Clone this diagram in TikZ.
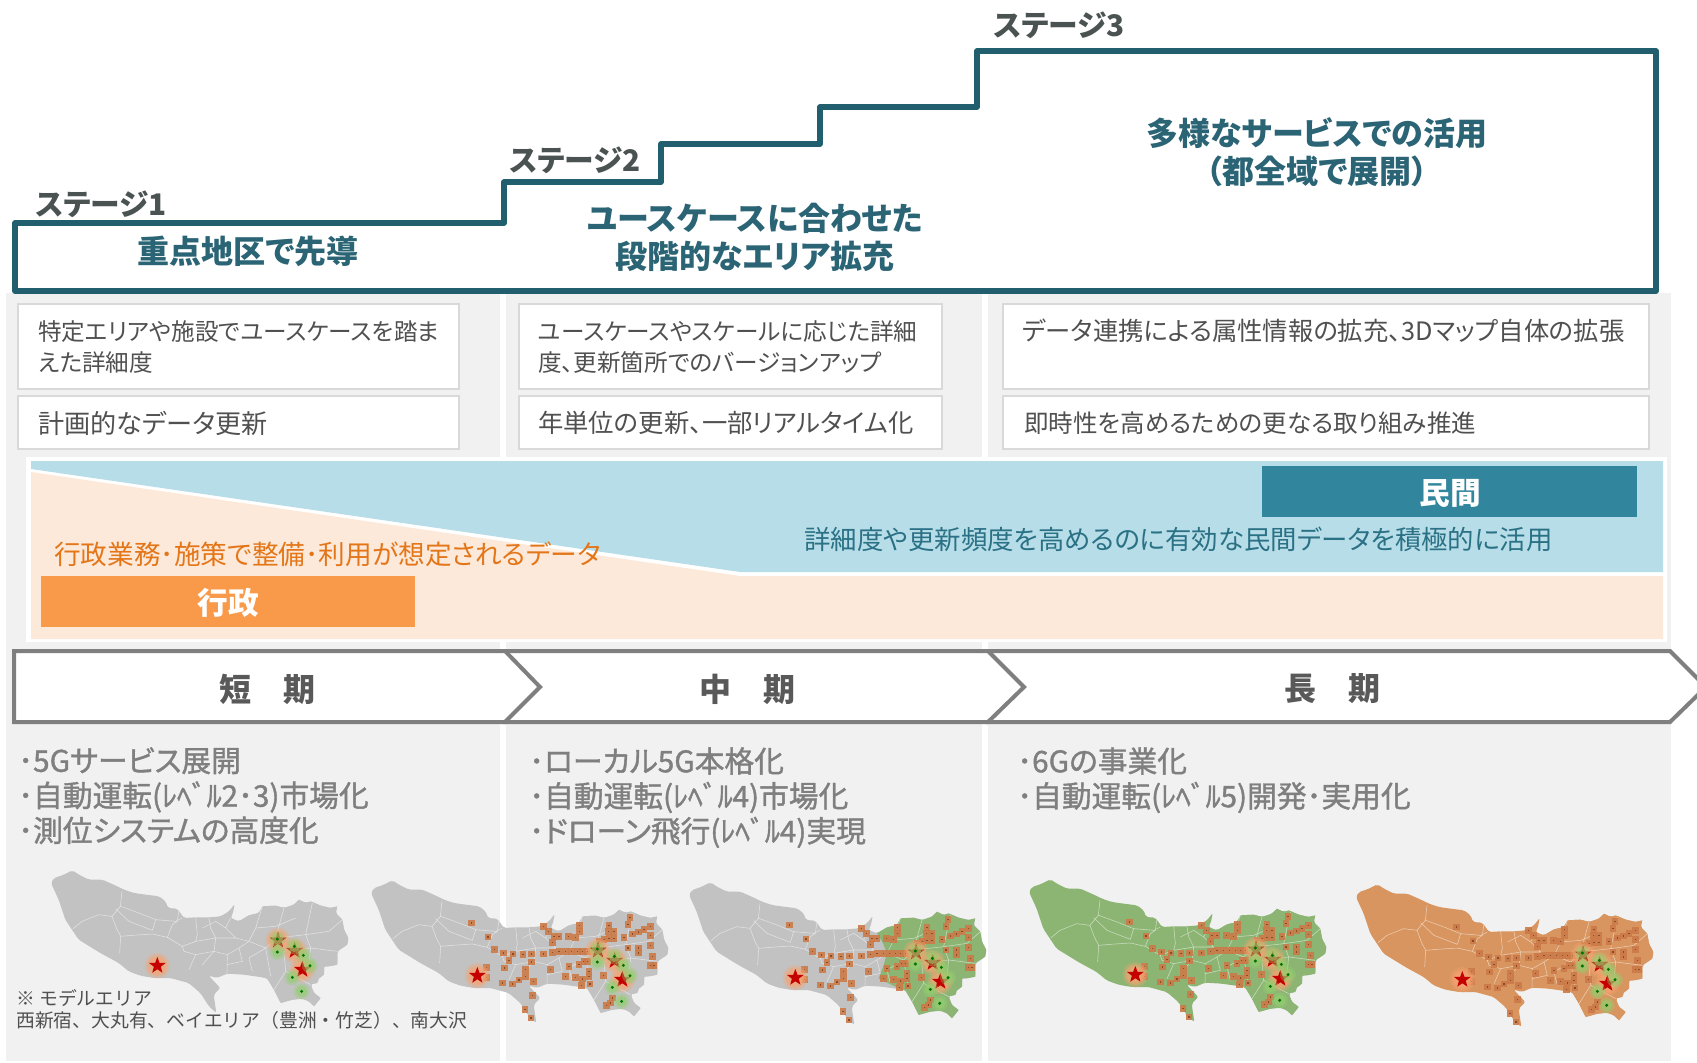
\documentclass[tikz,border=0pt]{standalone}
\usepackage{fontspec}
\setmainfont{Noto Sans CJK JP}[RawFeature=+palt]
\newfontfamily\widefont{Noto Sans CJK JP}
\newfontfamily\medfont{Noto Sans CJK JP}[RawFeature=+palt,FakeBold=1.2]
\usepackage[svgnames]{xcolor}
\usetikzlibrary{shapes.geometric}
\definecolor{stairteal}{HTML}{215F6E}
\definecolor{headteal}{HTML}{2A6475}
\definecolor{panelgray}{HTML}{F1F1F1}
\definecolor{boxline}{HTML}{D9D9D9}
\definecolor{boxtext}{HTML}{505050}
\definecolor{bandblue}{HTML}{B7DDE8}
\definecolor{bandpeach}{HTML}{FDE9D9}
\definecolor{privblue}{HTML}{31859C}
\definecolor{govorange}{HTML}{F99A4A}
\definecolor{govtext}{HTML}{E4761A}
\definecolor{chevgray}{HTML}{7F7F7F}
\definecolor{mapgray}{HTML}{C2C2C2}
\definecolor{mapgreen}{HTML}{8CB574}
\definecolor{maporange}{HTML}{D8955F}
\definecolor{sqorange}{HTML}{CB7A48}
\definecolor{sqdark}{HTML}{8A4A24}
\definecolor{starred}{HTML}{C40000}
\definecolor{halopeach}{HTML}{F7A472}
\definecolor{spotgreen}{HTML}{92CF6E}
\def\fs#1{\fontsize{#1}{#1}\selectfont}
\begin{document}
\begin{tikzpicture}[x=0.75pt,y=-0.75pt,
    panel/.style={fill=panelgray},
    stagelabel/.style={inner sep=0,text=DarkSlateGray!30!black!75,font=\fs{22.3}\bfseries},
    headline/.style={inner sep=0,align=center,text=headteal,font=\fontsize{24}{28.5}\selectfont\bfseries},
    whitebox/.style={draw=boxline,line width=1.8pt,fill=white},
    boxlabel/.style={anchor=west,inner sep=0,align=left,text=boxtext,font=\fontsize{#1}{23.6}\selectfont},
    banner/.style={inner sep=0,text=white,font=\fs{23}\bfseries},
    chevron/.style={draw=chevgray,line width=3pt,fill=white,line join=miter},
    termlabel/.style={inner sep=0,text=black!65,font=\fs{24}\bfseries},
    bulletlabel/.style={anchor=north west,inner sep=0,align=left,text=chevgray,font=\medfont\fontsize{22.3}{26.2}\selectfont},
    redstar/.style={star,star points=5,star point ratio=2.4,inner sep=0,minimum size=13pt,fill=starred}]

    \useasboundingbox (0,0) rectangle (1697,1063);
    \clip (0,0) rectangle (1697,1063);
    \fill[white] (0,0) rectangle (1697,1063);

    % Gray columns
    \fill[panel] (6,293) rectangle (500,1061);
    \fill[panel] (506,293) rectangle (982,1061);
    \fill[panel] (988,293) rectangle (1671,1061);

    % Stairs
    \draw[stairteal,line width=4pt,line join=round] (15,223) -- (504,223) -- (504,182) -- (661,182) -- (661,144)
        -- (820,144) -- (820,107) -- (977,107) -- (977,51) -- (1656,51) -- (1656,291) -- (15,291) -- cycle;
    \node[stagelabel] (stage1) at (101,204) {ステージ1};
    \node[stagelabel] (stage2) at (575,160) {ステージ2};
    \node[stagelabel] (stage3) at (1059,25) {ステージ3};
    \node[headline] (head1) at (248,251) {重点地区で先導};
    \node[headline] (head2) at (755,237) {ユースケースに合わせた\\段階的なエリア拡充};
    \node[headline] (head3) at (1317,152) {多様なサービスでの活用\\（都全域で展開）};

    % Boxes under the stairs
    \draw[whitebox] (18,304) rectangle (459,389);
    \draw[whitebox] (18,396) rectangle (459,449);
    \draw[whitebox] (519,304) rectangle (942,389);
    \draw[whitebox] (519,396) rectangle (942,449);
    \draw[whitebox] (1003,304) rectangle (1649,389);
    \draw[whitebox] (1003,396) rectangle (1649,449);
    \node[boxlabel=17.7] (spec1) at (38,347) {特定エリアや施設でユースケースを踏ま\\えた詳細度};
    \node[boxlabel=19.6] (upd1) at (38,423) {計画的なデータ更新};
    \node[boxlabel=17.7] (spec2) at (538,347) {ユースケースやスケールに応じた詳細\\度、更新箇所でのバージョンアップ};
    \node[boxlabel=19] (upd2) at (538,423) {年単位の更新、一部リアルタイム化};
    \node[boxlabel=19] (spec3) at (1022,331) {データ連携による属性情報の拡充、3Dマップ自体の拡張};
    \node[boxlabel=18.4] (upd3) at (1024,423) {即時性を高めるための更なる取り組み推進};

    % Band public / private
    \fill[white] (26,457) rectangle (1667,642);
    \fill[bandblue] (31,461) -- (1663,461) -- (1663,572) -- (740,572) -- (31,469) -- cycle;
    \fill[bandpeach] (31,472) -- (740,576) -- (1663,576) -- (1663,639) -- (31,639) -- cycle;
    \fill[govorange] (41,576) rectangle (415,627);
    \fill[privblue] (1262,466) rectangle (1637,517);
    \node[banner] (gov) at (228,603) {行政};
    \node[banner] (priv) at (1450,493) {民間};
    \node[anchor=west,inner sep=0,text=govtext,font=\fs{20}] (govtxt) at (54,554) {行政業務･施策で整備･利用が想定されるデータ};
    \node[anchor=west,inner sep=0,text=privblue!85!black,font=\fs{19.8}] (privtxt) at (804,539) {詳細度や更新頻度を高めるのに有効な民間データを積極的に活用};

    % Chevrons
    \draw[chevron] (988,651) -- (1670,651) -- (1706,687) -- (1670,722) -- (988,722) -- cycle;
    \draw[chevron] (505,651) -- (988,651) -- (1024,687) -- (988,722) -- (505,722) -- cycle;
    \draw[chevron] (14,651) -- (505,651) -- (540,687) -- (505,722) -- (14,722) -- cycle;
    \node[termlabel] (short) at (267,689) {短　期};
    \node[termlabel] (mid) at (747,689) {中　期};
    \node[termlabel] (long) at (1332,689) {長　期};

    % Bullets
    \node[bulletlabel] (tech1) at (18,747) {･5Gサービス展開\\･自動運転(ﾚﾍﾞﾙ2･3)市場化\\･測位システムの高度化};
    \node[bulletlabel] (tech2) at (529,747) {･ローカル5G本格化\\･自動運転(ﾚﾍﾞﾙ4)市場化\\･ドローン飛行(ﾚﾍﾞﾙ4)実現};
    \node[bulletlabel] (tech3) at (1017,747) {･6Gの事業化\\･自動運転(ﾚﾍﾞﾙ5)開発･実用化};

    % Outline of the map, numbers are read in the zoomed picture
    \def\tokyoshape{(566,135) -- (575,120) -- (600,112) -- (630,97) -- (650,110) -- (680,125) -- (720,125) -- (765,145)
        -- (785,155) -- (815,165) -- (850,170) -- (890,175) -- (910,190) -- (917,210) -- (945,212) -- (965,240)
        -- (1000,238) -- (1040,238) -- (1075,235) -- (1100,220) -- (1117,198) -- (1112,225) -- (1105,240) -- (1130,250)
        -- (1160,232) -- (1190,225) -- (1200,205) -- (1240,203) -- (1265,210) -- (1295,200) -- (1310,185) -- (1330,195)
        -- (1345,190) -- (1375,203) -- (1405,210) -- (1425,205) -- (1420,225) -- (1440,245) -- (1445,275) -- (1458,300)
        -- (1455,320) -- (1425,340) -- (1425,380) -- (1400,385) -- (1385,385) -- (1385,410) -- (1365,425) -- (1345,440)
        -- (1355,465) -- (1375,480) -- (1355,505) -- (1340,490) -- (1320,482) -- (1290,485) -- (1255,495) -- (1235,455)
        -- (1214,420) -- (1144,410) -- (1094,407) -- (1064,420) -- (1039,413) -- (1074,450) -- (1054,470) -- (1062,525)
        -- (1040,505) -- (1014,465) -- (979,435) -- (924,420) -- (874,420) -- (834,413) -- (799,400) -- (769,375)
        -- (714,345) -- (649,305) -- (609,245) -- (589,185) -- cycle
        (1345,425) -- (1357,415) -- (1370,420) -- (1365,435) -- (1350,438) -- cycle}
    \def\squarelist{868/225,917/267,936/305,964/315,992/318,980/338,966/360,1022/320,1048/318,1048/342,1030/365,1030/385,
        1010/396,990/408,960/405,912/358,912/388,1083/318,1110/313,1130/310,1105/365,1053/400,1050/442,1028/485,1046/510,
        1083/235,1098/250,1115/265,1130/265,1158/265,1180/268,1192/250,1192/232,1110/283,1150/310,1168/310,1185/310,
        1200/310,1215/310,1230/310,1160/355,1190/350,1205/340,1215/340,1150/385,1180/388,1200/393,1220/370,1220/385,
        1223/408,1198/412,1263/382,1250/280,1265/275,1280/272,1295/272,1325/268,1350/258,1368/252,1385/245,1405/235,
        1280/232,1278/250,1295/250,1337/230,1343/208,1337/300,1368/300,1368/315,1405/292,1405/262,1410/325,1405/352,
        1415/352,1290/450,1285/465,1272/472}
    % #1 name, #2 #3 west tip, #4 colour, #5 colour of the wards, #6 squares or not
    \def\drawmap#1#2#3#4#5#6{
        \begin{scope}[shift={(#2,#3)},x=0.25pt,y=-0.25pt,shift={(-566,-135)}]
            \fill[#4,rounded corners=1.5pt] \tokyoshape;
            \begin{scope}
                \clip \tokyoshape;
                \fill[#5] (1130,250) -- (1148,280) -- (1160,310) -- (1150,345) -- (1135,385) -- (1214,425) -- (1235,600)
                    -- (1600,600) -- (1600,100) -- (1130,100) -- cycle;
            \end{scope}
            % Borders of the towns
            \draw[white,opacity=0.55,line width=0.4pt,line join=round]
                (779,160) -- (774,205) -- (749,235) -- (709,230) -- (659,250) -- (632,272)
                (749,235) -- (762,270) -- (775,295) -- (772,345)
                (775,295) -- (810,292) -- (870,288) -- (915,298) -- (960,325) -- (965,340) -- (1000,350) -- (980,395)
                (760,212) -- (800,250) -- (870,277) -- (880,245) -- (830,225) -- (775,205)
                (880,245) -- (940,250) -- (960,240)
                (915,298) -- (930,260) -- (945,250) -- (950,215)
                (960,325) -- (1000,310) -- (1060,300) -- (1120,300) -- (1160,310)
                (1000,238) -- (1005,290) -- (1000,310)
                (1040,238) -- (1045,270) -- (1060,300)
                (1060,300) -- (1055,340) -- (1020,380)
                (1000,350) -- (1055,340) -- (1095,350) -- (1094,407)
                (1095,350) -- (1130,330) -- (1160,310)
                (1105,240) -- (1090,270) -- (1120,300)
                (1160,310) -- (1180,270) -- (1200,205)
                (1160,310) -- (1210,330) -- (1240,300) -- (1265,210)
                (1240,300) -- (1330,290) -- (1350,195)
                (1330,290) -- (1345,330) -- (1425,340)
                (1210,330) -- (1225,415)
                (1265,340) -- (1270,400) -- (1235,455)
                (1270,400) -- (1345,440)
                (1345,330) -- (1340,380)
                (1265,340) -- (1345,330)
                (1330,290) -- (1400,280) -- (1440,245)
                (1020,270) -- (1060,250) -- (1090,270)
                (1130,330) -- (1140,370) -- (1094,380)
                (1180,270) -- (1240,265) -- (1300,240)
                (1210,330) -- (1160,360) -- (1170,400);
            % Squares
            \ifnum#6=1
                \foreach \px/\py in \squarelist {
                    \fill[sqorange,opacity=0.9] (\px-10,\py-10) rectangle (\px+10,\py+10);
                    \fill[sqdark] (\px-2,\py-2) rectangle (\px+2,\py+2);
                }
            \fi
            % Stars with a soft glow
            \foreach \sx/\sy [count=\i] in {885/383,1247/307,1297/338,1320/395} {
                \fill[halopeach,opacity=0.3] (\sx,\sy) circle (38);
                \fill[halopeach,opacity=0.45] (\sx,\sy) circle (31);
                \fill[halopeach,opacity=0.5] (\sx,\sy) circle (25);
                \node[redstar] (star#1\i) at (\sx,\sy) {};
            }
            % Green spots
            \foreach \gx/\gy in {1245/303,1245/342,1296/325,1323/352,1343/383,1290/418,1318/460} {
                \fill[spotgreen,opacity=0.35] (\gx,\gy) circle (24);
                \fill[spotgreen,opacity=0.55] (\gx,\gy) circle (17);
                \fill[green!45!black] (\gx,\gy) circle (5);
            }
        \end{scope}
    }
    \drawmap{a}{51}{883}{mapgray}{mapgray}{0}
    \drawmap{b}{371}{893}{mapgray}{mapgray}{1}
    \drawmap{c}{689}{895}{mapgray}{mapgreen}{1}
    \drawmap{d}{1029}{892}{mapgreen}{mapgreen}{1}
    \drawmap{e}{1356}{897}{maporange}{maporange}{1}

    % Note
    \node[anchor=west,inner sep=0,align=left,text=boxtext,font=\widefont\fontsize{14.1}{16.5}\selectfont] (note) at (16,1009) {※ モデルエリア\\西新宿、大丸有、ベイエリア（豊洲・竹芝）、南大沢};

\end{tikzpicture}
\end{document}
